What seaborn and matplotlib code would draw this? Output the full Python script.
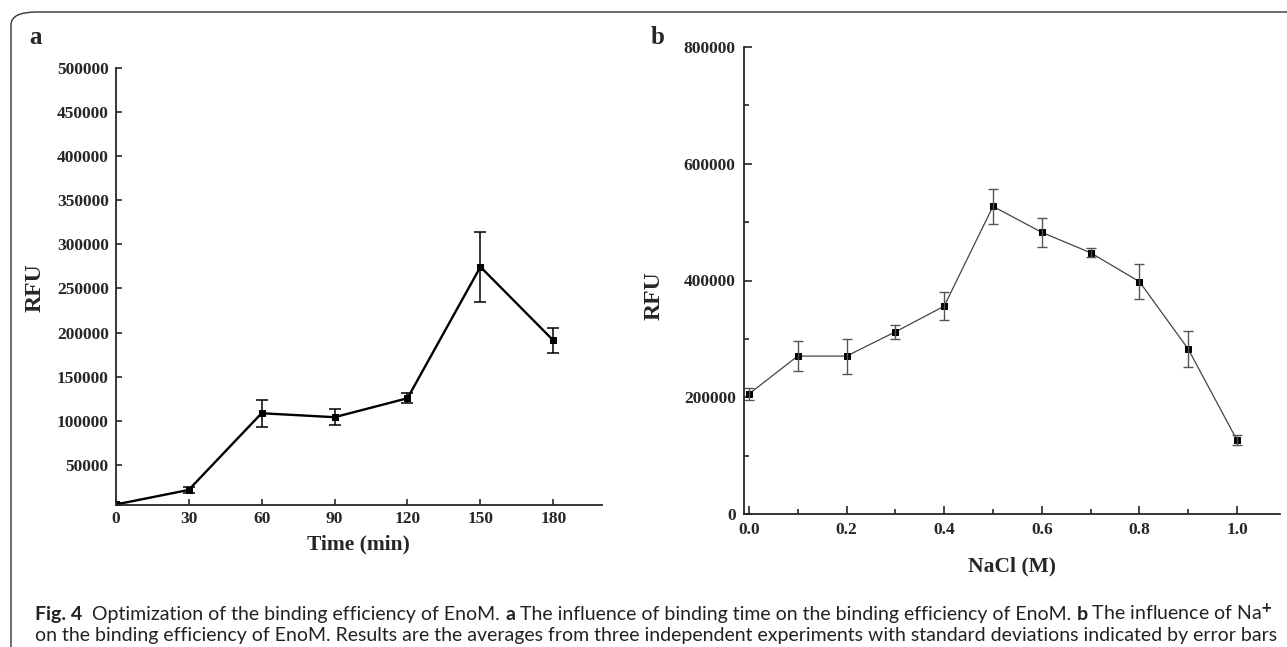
import numpy as np
import pandas as pd
import seaborn as sns
import matplotlib
matplotlib.use("Agg")
import matplotlib.pyplot as plt
from matplotlib.patches import FancyBboxPatch
from matplotlib.ticker import MultipleLocator, FormatStrFormatter

# panel a: binding time
time_min = [0, 30, 60, 90, 120, 150, 180]
rfu_time = [5000, 21500, 108500, 104000, 125500, 274500, 191000]
sd_time = [1500, 3000, 15500, 9000, 5500, 40000, 14000]

# panel b: NaCl concentration
nacl_m = [0.0, 0.1, 0.2, 0.3, 0.4, 0.5, 0.6, 0.7, 0.8, 0.9, 1.0]
rfu_nacl = [205500, 270500, 270500, 312000, 356000, 527000, 482500, 447500, 398000, 282500, 126500]
sd_nacl = [10000, 26000, 30000, 12500, 24500, 30500, 25000, 7500, 29500, 30500, 8500]

caption_1 = [("Fig. 4", True), ("  Optimization of the binding efficiency of EnoM. ", False),
             ("a", True), (" The influence of binding time on the binding efficiency of EnoM. ", False),
             ("b", True), (" The influence of Na$^{+}$", False)]
caption_2 = [("on the binding efficiency of EnoM. Results are the averages from three independent "
              "experiments with standard deviations indicated by error bars", False)]

sns.set_style("ticks")
plt.rcParams['font.family'] = ['Liberation Serif', 'DejaVu Serif']
plt.rcParams['font.weight'] = 'bold'
plt.rcParams['axes.linewidth'] = 1.3

W, H = 1287, 647
fig = plt.figure(figsize=(W / 100, H / 100), dpi=100)

# frame round the figure (only top and left edges are visible)
frame = FancyBboxPatch((11 / W, -0.1), 1.2, 1.1 - 12 / H,
                       boxstyle="round,pad=0,rounding_size=0.02",
                       transform=fig.transFigure, fill=False, lw=1.0, ec="#333333")
fig.patches.append(frame)

df_a = pd.DataFrame({"Time": time_min, "RFU": rfu_time})
df_b = pd.DataFrame({"NaCl": nacl_m, "RFU": rfu_nacl})

# ---- panel a
ax1 = fig.add_axes([115.7 / W, 1 - 504.5 / H, 486.3 / W, 436.5 / H])
sns.lineplot(data=df_a, x="Time", y="RFU", ax=ax1, color="black", lw=1.7,
             marker="s", markersize=5, markeredgecolor="black")
ax1.errorbar(time_min, rfu_time, yerr=sd_time, fmt="none", ecolor="black",
             elinewidth=1.1, capsize=4.5, capthick=1.1)
ax1.set_xlim(0, 200)
ax1.set_ylim(5000, 500000)
ax1.set_xticks(time_min)
ax1.set_yticks(np.arange(50000, 500001, 50000))
ax1.tick_params(direction="in", length=4, width=1.2, labelsize=12.5, pad=5)
ax1.set_xlabel("Time (min)", fontsize=15.5, fontweight="bold", labelpad=5)
ax1.set_ylabel("")
ax1.spines[["top", "right"]].set_visible(False)
fig.text(35 / W, 1 - 288 / H, "RFU", rotation=90, ha="center", va="center",
         fontsize=17, fontweight="bold")
fig.text(35 / W, 1 - 38 / H, "a", ha="center", va="center", fontsize=18, fontweight="bold")

# ---- panel b
ax2 = fig.add_axes([744 / W, 1 - 514 / H, 536 / W, 467 / H])
sns.lineplot(data=df_b, x="NaCl", y="RFU", ax=ax2, color="#444444", lw=0.9,
             marker="s", markersize=5, markerfacecolor="black", markeredgecolor="black")
ax2.errorbar(nacl_m, rfu_nacl, yerr=sd_nacl, fmt="none", ecolor="#555555",
             elinewidth=1.0, capsize=3.5, capthick=1.0)
ax2.set_xlim(-0.01, 1.088)
ax2.set_ylim(0, 800000)
ax2.xaxis.set_major_locator(MultipleLocator(0.2))
ax2.xaxis.set_minor_locator(MultipleLocator(0.1))
ax2.yaxis.set_major_locator(MultipleLocator(200000))
ax2.yaxis.set_minor_locator(MultipleLocator(100000))
ax2.xaxis.set_major_formatter(FormatStrFormatter("%.1f"))
ax2.tick_params(which="major", direction="in", length=6, width=1.2, labelsize=12.5, pad=6)
ax2.tick_params(which="minor", direction="in", length=3.5, width=1.2)
ax2.set_xlabel("NaCl (M)", fontsize=15.5, fontweight="bold", labelpad=13)
ax2.set_ylabel("")
ax2.spines[["top", "right"]].set_visible(False)
fig.text(654 / W, 1 - 296 / H, "RFU", rotation=90, ha="center", va="center",
         fontsize=17, fontweight="bold")
fig.text(658 / W, 1 - 37 / H, "b", ha="center", va="center", fontsize=18, fontweight="bold")

# ---- caption, drawn run by run so bold and normal parts follow each other
cap_font = ['Lato', 'DejaVu Sans']
renderer = fig.canvas.get_renderer()


def draw_runs(runs, x0, y0, size):
    x = x0
    for txt, bold in runs:
        t = fig.text(x / W, 1 - y0 / H, txt, ha="left", va="baseline", fontsize=size,
                     family=cap_font, fontweight="bold" if bold else "normal", color="#222222")
        x += t.get_window_extent(renderer=renderer).width
    return x - x0


# size the caption so the second line spans the same width as in the figure
probe = fig.text(0, 0, caption_2[0][0], fontsize=10, family=cap_font)
cap_size = 10 * 1262 / probe.get_window_extent(renderer=renderer).width
probe.remove()

draw_runs(caption_1, 35, 620, cap_size)
draw_runs(caption_2, 35, 641, cap_size)

fig.savefig("out.png", dpi=100)
